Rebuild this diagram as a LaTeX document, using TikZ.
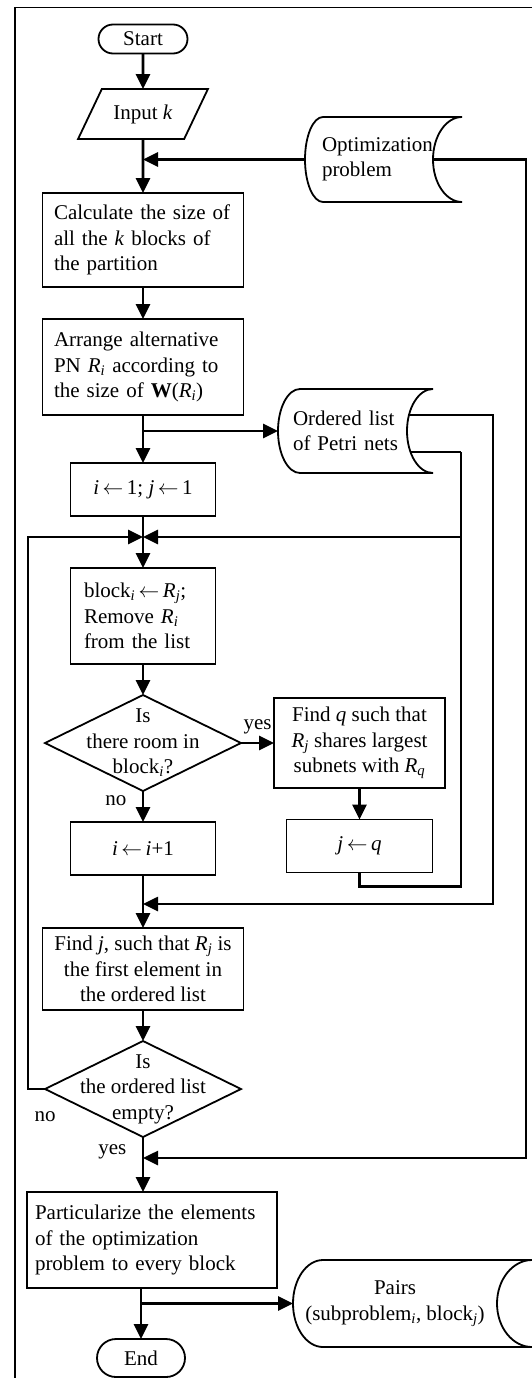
\documentclass[tikz,border=0pt]{standalone}
\usepackage{fontspec}
\setmainfont{Liberation Serif}
\usepackage{tikz}
\usetikzlibrary{shapes.geometric, shapes.misc, arrows.meta, positioning, calc}

\newcommand{\chartfont}{\fontsize{21}{25.5}\selectfont}
\newcommand{\idx}[1]{\textsubscript{\textit{#1}}}
\newcommand{\getsto}{\,$\leftarrow$\,}
% stored-data outline round a node: name, bulge, hollow, overhang
\newcommand{\storeshape}[4]{%
  \draw[line width=1.8pt] let \p1=(#1.north), \p2=(#1.center), \n1={\y1-\y2} in
    ([xshift=#2]#1.north west) -- ([xshift=#4]#1.north east)
    .. controls ([xshift=#4-0.552*#3]#1.north east)
            and ([xshift=#4-#3, yshift=0.552*\n1]#1.east)
    .. ([xshift=#4-#3]#1.east)
    .. controls ([xshift=#4-#3, yshift=-0.552*\n1]#1.east)
            and ([xshift=#4-0.552*#3]#1.south east)
    .. ([xshift=#4]#1.south east)
    -- ([xshift=#2]#1.south west)
    .. controls ([xshift=0.448*#2]#1.south west)
            and ([yshift=-0.552*\n1]#1.west)
    .. (#1.west)
    .. controls ([yshift=0.552*\n1]#1.west)
            and ([xshift=0.448*#2]#1.north west)
    .. cycle;
}

\begin{document}
\begin{tikzpicture}[
  x=1pt, y=-1pt,
  term/.style  = {rounded rectangle, draw, line width=1.8pt, font=\chartfont,
                  minimum width=93pt, minimum height=29pt, inner sep=2pt,
                  outer sep=0pt},
  io/.style    = {trapezium, trapezium left angle=53.5,
                  trapezium right angle=126.5, trapezium stretches=true,
                  draw, line width=1.8pt, font=\chartfont,
                  minimum width=130pt, minimum height=50pt, outer sep=0pt},
  proc/.style  = {rectangle, draw, line width=1.8pt, font=\chartfont,
                  minimum height=53pt, align=center, inner sep=3pt,
                  outer sep=0pt},
  dec/.style   = {diamond, draw, line width=1.8pt, font=\chartfont,
                  align=center, minimum width=196pt, minimum height=96pt,
                  inner sep=-25pt, outer sep=0pt},
  store/.style = {font=\chartfont, align=left, minimum height=85pt,
                  inner sep=0pt, outer sep=0pt},
  arr/.style   = {-{Triangle[length=15pt, width=14pt]}, line width=2.7pt},
  lnk/.style   = {line width=2.7pt},
  lbl/.style   = {font=\chartfont},
  node distance= 32pt
]
\useasboundingbox (0,0) rectangle (532,1378);
\clip (0,0) rectangle (532,1378);

% frame
\draw[line width=1.8pt] (545,7.5) -| (15.3,1390);

% ===================== MAIN COLUMN =====================
\node[term] (start) at (143,39) {Start};
\node[io, below=35.5pt of start] (input) {Input \textit{k}};

\node[proc, minimum width=201pt, minimum height=94pt, text width=178pt,
      align=left, below=54pt of input]
  (calc) {Calculate the size of\\all the \textit{k} blocks of\\the partition};
\node[proc, minimum width=201pt, minimum height=96pt, text width=178pt,
      align=left, below=32pt of calc]
  (arrange) {Arrange alternative\\PN \textit{R}\idx{i} according to\\the size of \textbf{W}(\textit{R}\idx{i})};

\node[proc, minimum width=145pt, below=48pt of arrange]
  (init) {\textit{i}\getsto 1; \textit{j}\getsto 1};
\node[proc, minimum width=145pt, minimum height=96pt, text width=118pt,
      align=left, below=52pt of init]
  (assign) {block\idx{i}\getsto\textit{R}\idx{j};\\Remove \textit{R}\idx{i}\\from the list};
\node[dec, below=31pt of assign]
  (room) {Is\\there room in\\block\idx{i}?};
\node[proc, minimum width=145pt, below=31pt of room]
  (inci) {\textit{i}\getsto\textit{i}+1};

\node[proc, minimum width=201pt, minimum height=82pt, below=53pt of inci]
  (findj) {Find \textit{j}, such that \textit{R}\idx{j} is\\the first element in\\the ordered list};
\node[dec, below=31pt of findj]
  (empty) {Is\\the ordered list\\empty?};

\node[proc, minimum width=250pt, minimum height=96pt, text width=234pt,
      align=left, below=55pt of empty, xshift=9pt]
  (part) {Particularize the elements\\of the optimization\\problem to every block};
\node[term, minimum width=92pt, minimum height=38pt,
      below=51pt of part, xshift=-11pt]
  (stop) {End};

% junctions on the main column
\coordinate[below=21pt of init]  (jn1);
\coordinate[below=29pt of inci]  (jn2);
\coordinate[below=21pt of empty] (jn3);

% ===================== RIGHT SIDE =====================
\node[store, minimum width=157pt, text width=123pt]
  (optprob) at (383.5,159.5) {Optimization\\problem};
\node[store, minimum width=155pt, minimum height=84pt, text width=125pt]
  (olist) at (355.5,431) {Ordered list\\of Petri nets};

\node[proc, minimum width=171pt, minimum height=90pt, right=33pt of room]
  (findq) {Find \textit{q} such that\\\textit{R}\idx{j} shares largest\\subnets with \textit{R}\idx{q}};
\node[proc, minimum width=146pt, below=31.5pt of findq]
  (setj) {\textit{j}\getsto\textit{q}};

\node[store, minimum width=204pt, minimum height=87pt, align=center]
  (pairs) at (395,1303.5) {Pairs\\(subproblem\idx{i}, block\idx{j})};

\storeshape{optprob}{18pt}{29pt}{0pt}
\storeshape{olist}{22pt}{26pt}{0pt}
\storeshape{pairs}{30pt}{35pt}{35pt}

% ===================== FLOW =====================
\draw[arr] (start) -- (input);
\draw[arr] (input) -- (calc);
\draw[arr] (optprob.west) -- (optprob.west -| input.south);
\draw[arr] (calc) -- (arrange);
\draw[arr] (arrange) -- (init);
\draw[arr] (olist.west -| arrange.south) -- (olist.west);
\draw[arr] (init) -- (assign);
\draw[arr] (assign) -- (room);
\draw[arr] (room.east) -- node[lbl, above=4pt] {yes} (room.east -| findq.west);
\draw[arr] (room) -- node[lbl, left=12pt, pos=0.3] {no} (inci);
\draw[arr] (findq) -- (setj);
\draw[arr] (inci) -- (findj);
\draw[arr] (findj) -- (empty);
\draw[arr] (empty.south) -- node[lbl, left=12pt, pos=0.27] {yes} (empty.south |- part.north);
\draw[arr] (stop.north |- part.south) -- (stop);
\draw[arr] (pairs.west -| stop.north) -- (pairs.west);

% loop back when the list is not empty
\draw[arr] (empty.west) -- node[lbl, pos=0, below=18pt] {no} ++(-17,0) |- (jn1);

% list and problem feed back into the column
\draw[arr] ([xshift=-29pt]optprob.east) -- ++(93,0) |- (jn3);
\draw[arr] ([xshift=-24pt, yshift=16pt]olist.east) -- ++(84,0) |- (jn2);
\coordinate (rb) at ([xshift=28pt, yshift=-21pt]olist.east);
\draw[lnk] ([xshift=-22.5pt, yshift=-21pt]olist.east) -- (rb);
\draw[lnk] (setj.south) -- ++(0,14) -| (rb);
\draw[arr] (rb |- jn1) -- (jn1);

\end{tikzpicture}
\end{document}
